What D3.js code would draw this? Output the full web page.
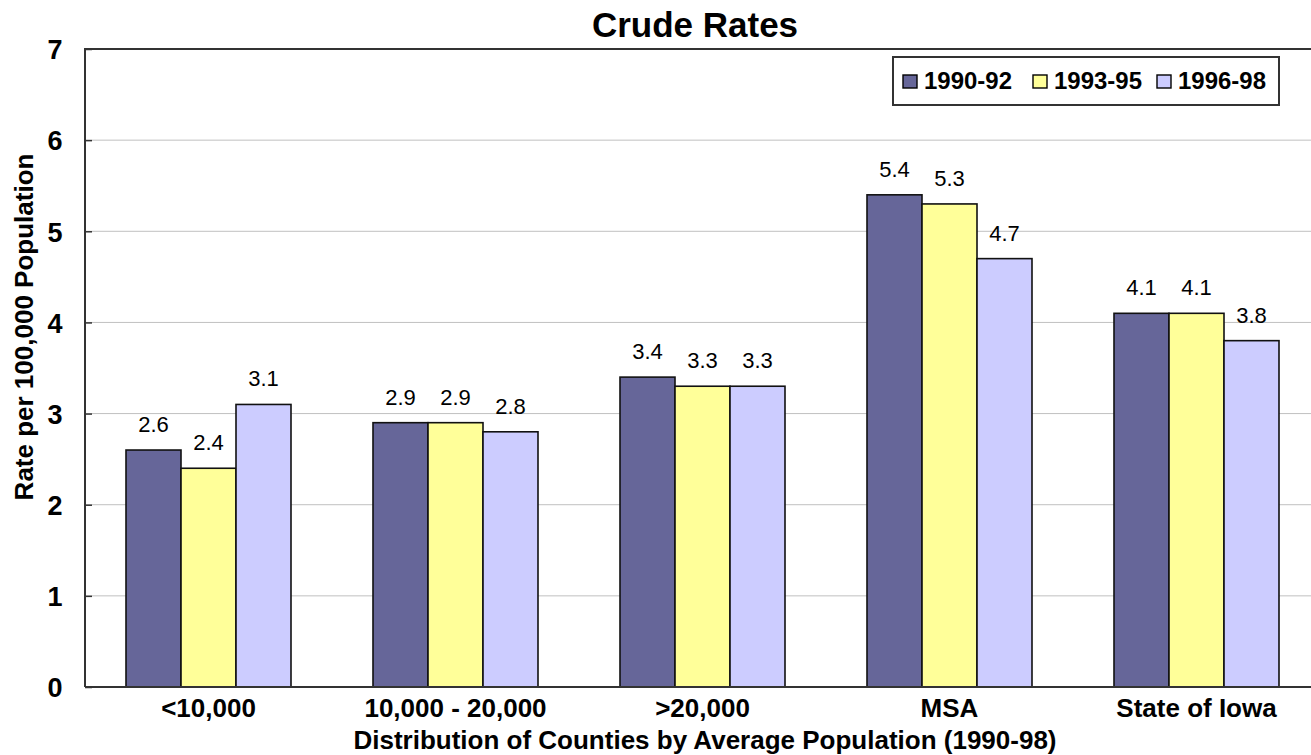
<!DOCTYPE html>
<html><head><meta charset="utf-8">
<script src="https://cdn.jsdelivr.net/npm/d3@7"></script>
<style>body{margin:0;background:#fff}svg{display:block}</style>
</head><body>
<svg id="c" width="1311" height="755"></svg>
<script>
const categories = ["<10,000", "10,000 - 20,000", ">20,000", "MSA", "State of Iowa"];
const seriesNames = ["1990-92", "1993-95", "1996-98"];
const s1990 = [2.6, 2.9, 3.4, 5.4, 4.1];
const s1993 = [2.4, 2.9, 3.3, 5.3, 4.1];
const s1996 = [3.1, 2.8, 3.3, 4.7, 3.8];
const yTicks = [0, 1, 2, 3, 4, 5, 6, 7];
const colors = ["#666699", "#FFFF99", "#CCCCFF"];

const series = [s1990, s1993, s1996];
const FONT = "Liberation Sans, Arial, sans-serif";
const svg = d3.select("#c");
const m = {l: 85, r: 1320, t: 49, b: 687};
const x = d3.scaleBand().domain(categories).range([m.l, m.r]).paddingInner(0.332).paddingOuter(0.166);
const xs = d3.scaleBand().domain(seriesNames).range([0, x.bandwidth()]);
const y = d3.scaleLinear().domain([0, 7]).range([m.b, m.t]);

// grid
svg.append("g").selectAll("line").data(yTicks.filter(d => d > 0 && d < 7)).join("line")
  .attr("x1", m.l).attr("x2", 1311).attr("y1", d => y(d)).attr("y2", d => y(d))
  .attr("stroke", "#c0c0c0").attr("stroke-width", 1);

// bars
const g = svg.append("g");
categories.forEach((c, i) => {
  series.forEach((s, j) => {
    const bx = x(c) + xs(seriesNames[j]);
    g.append("rect").attr("x", bx).attr("y", y(s[i])).attr("width", xs.bandwidth()).attr("height", y(0) - y(s[i]))
      .attr("fill", colors[j]).attr("stroke", "#111").attr("stroke-width", 1.6);
    g.append("text").attr("x", bx + xs.bandwidth() / 2).attr("y", y(s[i]) - 18)
      .attr("text-anchor", "middle").attr("font-family", FONT)
      .attr("font-size", 22).attr("fill", "#000").text(s[i].toFixed(1));
  });
});

// frame
svg.append("path").attr("d", `M${m.l},${m.b}V${m.t}H1311`).attr("fill", "none").attr("stroke", "#333").attr("stroke-width", 2);
svg.append("line").attr("x1", m.l).attr("x2", 1311).attr("y1", m.b).attr("y2", m.b).attr("stroke", "#333").attr("stroke-width", 2);

// y axis
const ya = d3.axisLeft(y).tickValues(yTicks).tickSize(-7).tickPadding(30).tickFormat(d3.format("d"));
const yg = svg.append("g").attr("transform", `translate(${m.l},0)`).call(ya);
yg.select(".domain").remove();
yg.selectAll("line").attr("stroke", "#333").attr("stroke-width", 1.5);
yg.selectAll("text").attr("font-family", "Liberation Sans Narrow, " + FONT)
  .attr("font-weight", "bold").attr("font-size", 27).attr("fill", "#000").attr("text-anchor", "middle")
  .attr("x", -30).attr("dy", "0.36em");

// x axis labels
const xa = d3.axisBottom(x).tickSize(0).tickPadding(0);
const xg = svg.append("g").attr("transform", `translate(0,${m.b})`).call(xa);
xg.select(".domain").remove();
xg.selectAll("text").attr("font-family", FONT).attr("font-weight", "bold")
  .attr("font-size", 26).attr("fill", "#000").attr("y", 30).attr("dy", 0);

// titles
svg.append("text").attr("x", 695).attr("y", 37).attr("text-anchor", "middle")
  .attr("font-family", FONT).attr("font-weight", "bold").attr("font-size", 35).text("Crude Rates");
svg.append("text").attr("x", 705).attr("y", 749).attr("text-anchor", "middle")
  .attr("font-family", FONT).attr("font-weight", "bold").attr("font-size", 26)
  .text("Distribution of Counties by Average Population (1990-98)");
svg.append("text").attr("transform", "translate(33,327) rotate(-90)").attr("text-anchor", "middle")
  .attr("font-family", FONT).attr("font-weight", "bold").attr("font-size", 26)
  .text("Rate per 100,000 Population");

// legend
const lg = svg.append("g");
lg.append("rect").attr("x", 893).attr("y", 57).attr("width", 386).attr("height", 48)
  .attr("fill", "#fff").attr("stroke", "#333").attr("stroke-width", 2);
const lx = [903, 1033, 1157];
seriesNames.forEach((n, j) => {
  lg.append("rect").attr("x", lx[j]).attr("y", 75).attr("width", 14).attr("height", 13)
    .attr("fill", colors[j]).attr("stroke", "#000").attr("stroke-width", 1.4);
  lg.append("text").attr("x", lx[j] + 21).attr("y", 89)
    .attr("font-family", FONT).attr("font-weight", "bold")
    .attr("font-size", 23).attr("fill", "#000")
    .attr("textLength", 88).attr("lengthAdjust", "spacingAndGlyphs").text(n);
});
</script>
</body></html>
